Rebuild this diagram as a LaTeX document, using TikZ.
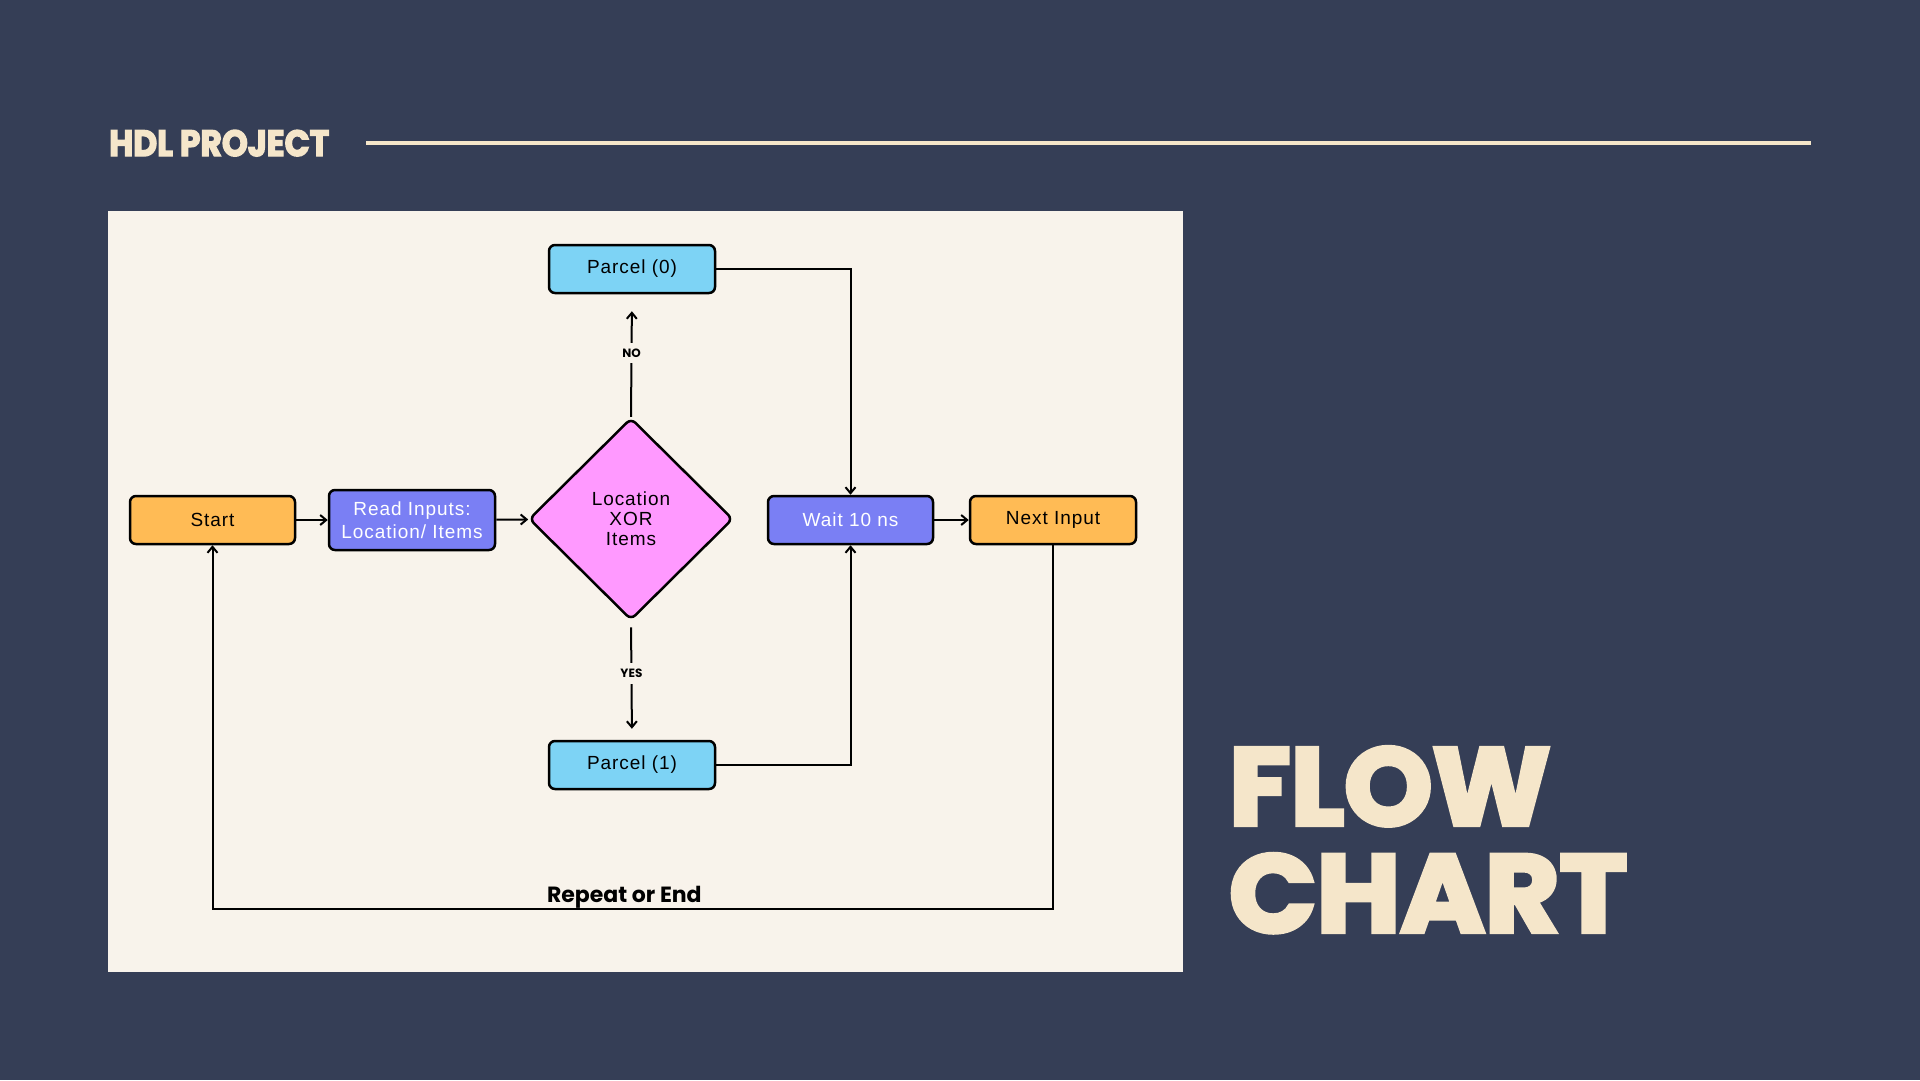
\documentclass[tikz,border=0pt]{standalone}
\usepackage{fontspec}
\usepackage{graphicx}
\usetikzlibrary{shapes.geometric,arrows.meta}
\setmainfont{Liberation Sans}[LetterSpace=5]
\newfontfamily\popfont{Poppins}
\newfontfamily\heavyfont{Poppins}[BoldFeatures={FakeBold=4}]
\definecolor{bg}{HTML}{353E56}
\definecolor{panel}{HTML}{F8F3EB}
\definecolor{cream}{HTML}{F5E6CA}
\definecolor{c1}{HTML}{FFBB55}
\definecolor{c2}{HTML}{7A7FF4}
\definecolor{c3}{HTML}{FF99FF}
\definecolor{c4}{HTML}{7DD3F5}

\begin{document}
\begin{tikzpicture}[x=1pt, y=-1pt,
            box/.style={draw=black, line width=2.5pt, rounded corners=6pt, minimum width=166pt, minimum height=48pt, align=center, font=\fontsize{19}{23}\selectfont},
            conn/.style={line width=2pt, -{Straight Barb[length=6pt, width=10pt]}},
            lbl/.style={fill=panel, inner sep=6pt, font=\popfont\bfseries\fontsize{12}{12}\selectfont}]
            \useasboundingbox (0,0) rectangle (1920,1080);
            \fill[bg] (0,0) rectangle (1920,1080);
            \fill[panel] (108,211) rectangle (1183,972);
            \node[anchor=base west, inner sep=0, text=cream] (title) at (109,156) {\resizebox{220pt}{26pt}{\heavyfont\bfseries HDL PROJECT}};
            \draw[cream, line width=4pt] (366,143) -- (1811,143);
            \node[anchor=base west, inner sep=0, text=cream] (flow) at (1229,825) {\raisebox{0pt}[\height][0pt]{\resizebox{321pt}{78pt}{\heavyfont\bfseries FLOW}}};
            \node[anchor=base west, inner sep=0, text=cream] (chart) at (1229,932) {\resizebox{398pt}{78pt}{\heavyfont\bfseries CHART}};
            \node[box, fill=c1, minimum width=165pt] (start) at (212.5,520) {Start};
            \node[box, fill=c2, text=white, minimum height=60pt] (read) at (412,520) {Read Inputs:\\Location/ Items};
            \node[diamond, draw=black, line width=2.5pt, rounded corners=6pt, fill=c3, minimum width=204pt, minimum height=202pt, inner sep=0, align=center, font=\fontsize{19}{20}\selectfont] (xor) at (631,519) {Location\\XOR\\Items};
            \node[box, fill=c4] (parcel0) at (632,269) {Parcel (0)};
            \node[box, fill=c4] (parcel1) at (632,765) {Parcel (1)};
            \node[box, fill=c2, text=white, minimum width=165pt] (wait) at (850.5,520) {Wait 10 ns};
            \node[box, fill=c1] (next) at (1053,520) {Next Input};
            \draw[conn] (start) -- (read);
            \draw[conn] (read) -- (xor);
            \draw[conn] (wait) -- (next);
            \draw[conn, shorten >=17pt] (xor.north) -- node[lbl, pos=0.52] {NO} (parcel0.south);
            \draw[conn, shorten <=6pt, shorten >=11pt] (xor.south) -- node[lbl, pos=0.44] {YES} (parcel1.north);
            \draw[conn] (parcel0.east) -| (wait.north);
            \draw[conn] (parcel1.east) -| (wait.south);
            \draw[conn] (next.south) -- (next.south |- 0,909) -| node[pos=0.255, above, inner sep=0pt, font=\popfont\bfseries\fontsize{22}{22}\selectfont] {Repeat or End} (start.south);
        \end{tikzpicture}
\end{document}
